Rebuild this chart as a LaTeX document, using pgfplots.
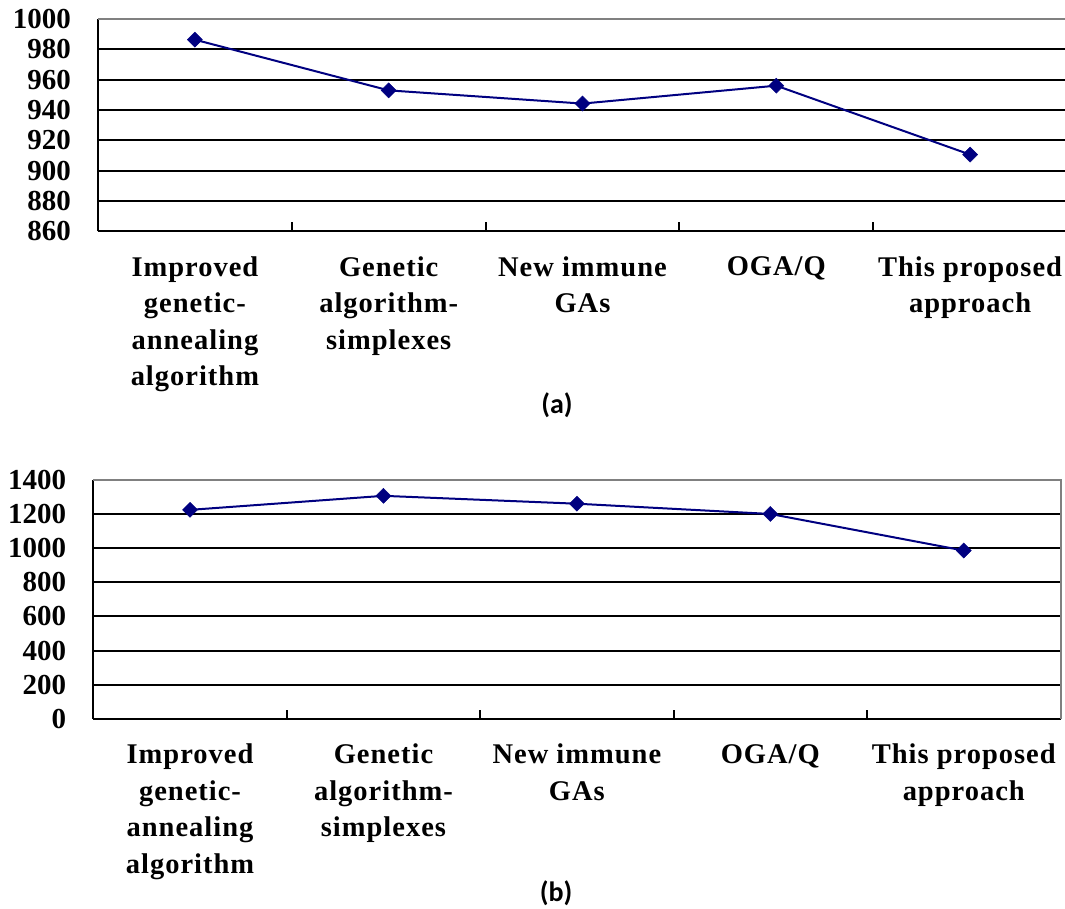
\documentclass[border=0pt]{standalone}
\usepackage{fontspec}
\setmainfont{Liberation Serif}
\newfontfamily\capfont{Carlito}
\newfontfamily\catfont[LetterSpace=3.5]{Liberation Serif}
\usepackage{pgfplots}
\pgfplotsset{compat=1.18}
\definecolor{navy}{RGB}{0,0,128}
\definecolor{bordergray}{RGB}{128,128,128}

\pgfplotsset{
 excelstyle/.style={
  scale only axis,
  axis lines=left,
  axis line style={-, black, line width=2pt},
  xmin=0.5, xmax=5.5,
  xtick={1,2,3,4,5},
  xticklabels={{Improved\\genetic-\\annealing\\algorithm},{Genetic\\algorithm-\\simplexes},{New immune\\GAs},{OGA/Q},{This proposed\\approach}},
  minor xtick={1.5,2.5,3.5,4.5,5.5},
  major tick length=0pt,
  minor tick length=9pt,
  tick align=inside,
  tick style={black, line width=2pt},
  ymajorgrids,
  major grid style={black, line width=2pt},
  xticklabel style={align=center, anchor=north, inner sep=0pt, yshift=-25pt, font=\catfont\bfseries\fontsize{28.5}{36.5}\selectfont},
  yticklabel style={anchor=east, inner sep=0pt, xshift=-27pt, font=\bfseries\fontsize{29}{29}\selectfont},
  /pgf/number format/assume math mode=true,
  /pgf/number format/1000 sep={},
  clip=false,
 },
 excelline/.style={navy, line width=2pt, mark=square*, mark size=5.3pt, mark options={rotate=45, fill=navy, draw=navy, line width=0.5pt}},
}

\begin{document}
\begin{tikzpicture}
\useasboundingbox (0,0) rectangle (1065pt,909pt);
% Panel (a)
\begin{axis}[excelstyle,
  at={(98pt,677.6pt)}, anchor=south west,
  width=969pt, height=212.5pt,
  ymin=860, ymax=1000, ytick={860,880,...,1000}]
\addplot[excelline] coordinates {(1,986.3) (2,952.9) (3,944.2) (4,956.0) (5,910.6)};
\draw[bordergray, line width=2pt] (rel axis cs:0,1) -- (rel axis cs:1,1) -- (rel axis cs:1,0);
\end{axis}
\node[font=\capfont\bfseries\fontsize{28}{32}\selectfont] at (557pt,504pt) {(a)};
% Panel (b)
\begin{axis}[excelstyle,
  at={(93.3pt,190pt)}, anchor=south west,
  width=967.2pt, height=239.4pt,
  ymin=0, ymax=1400, ytick={0,200,...,1400}]
\addplot[excelline] coordinates {(1,1223) (2,1305) (3,1259) (4,1199) (5,985)};
\draw[bordergray, line width=2pt] (rel axis cs:0,1) -- (rel axis cs:1,1) -- (rel axis cs:1,0);
\end{axis}
\node[font=\capfont\bfseries\fontsize{28}{32}\selectfont] at (556pt,16pt) {(b)};
\end{tikzpicture}
\end{document}
